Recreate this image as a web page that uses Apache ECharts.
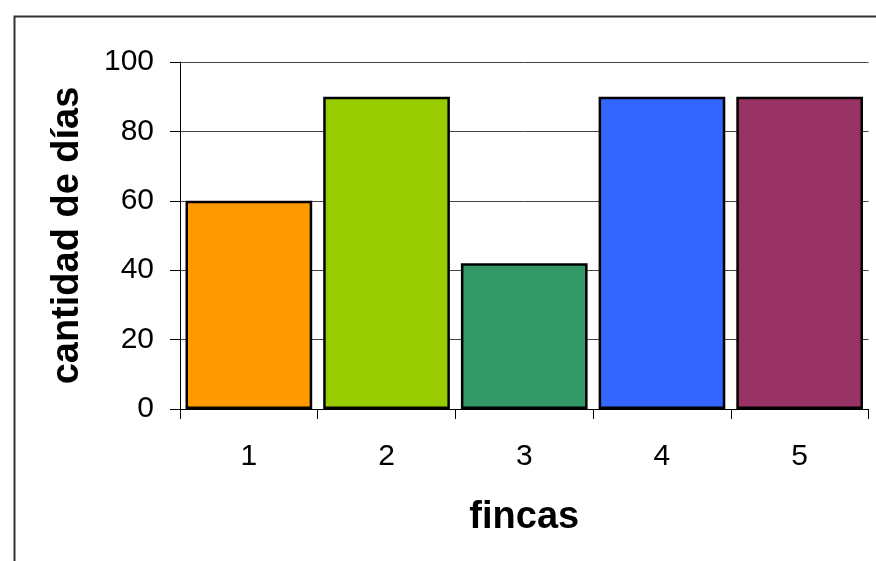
<!DOCTYPE html>
<html><head><meta charset="utf-8">
<script src="https://cdn.jsdelivr.net/npm/echarts@6/dist/echarts.min.js"></script>
<style>html,body{margin:0;padding:0;background:#fff}#c{width:876px;height:561px}</style>
</head><body><div id="c"></div>
<script>
const categories = ['1','2','3','4','5'];
const values = [60, 90, 42, 90, 90];
const colors = ['#FF9900','#99CC00','#339966','#3366FF','#993366'];
const yTicks = [0, 20, 40, 60, 80, 100];

const chart = echarts.init(document.getElementById('c'));
chart.setOption({
  animation: false,
  backgroundColor: '#fff',
  graphic: [{
    type: 'rect', left: 12, top: 14, shape: {x: 0, y: 0, width: 900, height: 600},
    style: {fill: 'none', stroke: '#333', lineWidth: 2}, silent: true
  }],
  grid: {left: 180, right: 7.5, top: 62, height: 347, containLabel: false},
  xAxis: {
    type: 'category', data: categories,
    name: 'fincas', nameLocation: 'middle', nameGap: 90,
    nameTextStyle: {fontFamily: 'Liberation Sans', fontSize: 38, fontWeight: 'bold', color: '#000'},
    axisLine: {lineStyle: {color: '#000', width: 1}},
    axisTick: {show: true, length: 10, lineStyle: {color: '#000'}},
    axisLabel: {fontFamily: 'Liberation Sans', fontSize: 30, color: '#000', margin: 33}
  },
  yAxis: {
    type: 'value', min: yTicks[0], max: yTicks[yTicks.length-1], interval: 20,
    name: 'cantidad de días', nameLocation: 'middle', nameGap: 93,
    nameTextStyle: {fontFamily: 'Liberation Sans', fontSize: 38, fontWeight: 'bold', color: '#000'},
    axisLine: {show: true, lineStyle: {color: '#000', width: 1}},
    axisTick: {show: true, length: 10, lineStyle: {color: '#000'}},
    axisLabel: {fontFamily: 'Liberation Sans', fontSize: 30, color: '#000', margin: 26},
    splitLine: {show: true, lineStyle: {color: '#444', width: 1}}
  },
  series: [{
    type: 'bar',
    barCategoryGap: '8%',
    data: values.map((v, i) => ({value: v, itemStyle: {color: colors[i]}})),
    itemStyle: {borderColor: '#000', borderWidth: 2.5}
  }]
});
</script></body></html>
